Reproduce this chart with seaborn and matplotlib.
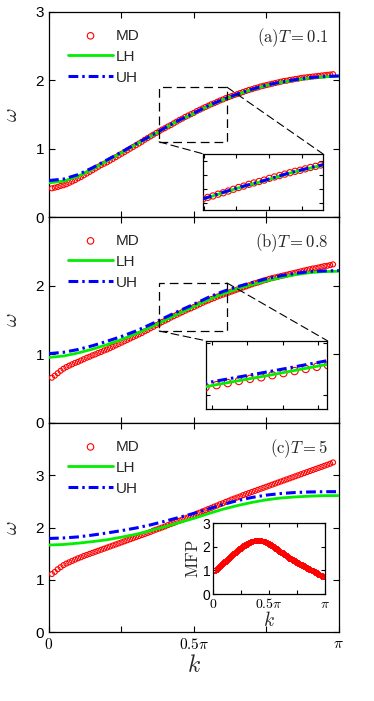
import numpy as np
import matplotlib
matplotlib.use("Agg")
import matplotlib.pyplot as plt
import seaborn as sns
from matplotlib.patches import Rectangle, ConnectionPatch
from matplotlib.ticker import MultipleLocator

sns.set_theme(style="ticks")
plt.rcParams["font.family"] = ["Liberation Sans", "DejaVu Sans"]
plt.rcParams["mathtext.fontset"] = "cm"

# ---- data (k in units of pi) ----
k_line = [0.00, 0.05, 0.10, 0.15, 0.20, 0.25, 0.30, 0.35, 0.40, 0.45, 0.50,
          0.55, 0.60, 0.65, 0.70, 0.75, 0.80, 0.85, 0.90, 0.95, 1.00]

k_md = [0.01, 0.02, 0.03, 0.04, 0.05, 0.06, 0.07, 0.08, 0.09, 0.10,
        0.11, 0.12, 0.13, 0.14, 0.15, 0.16, 0.17, 0.18, 0.19, 0.20,
        0.21, 0.22, 0.23, 0.24, 0.25, 0.26, 0.27, 0.28, 0.29, 0.30,
        0.31, 0.32, 0.33, 0.34, 0.35, 0.36, 0.37, 0.38, 0.39, 0.40,
        0.41, 0.42, 0.43, 0.44, 0.45, 0.46, 0.47, 0.48, 0.49, 0.50,
        0.51, 0.52, 0.53, 0.54, 0.55, 0.56, 0.57, 0.58, 0.59, 0.60,
        0.61, 0.62, 0.63, 0.64, 0.65, 0.66, 0.67, 0.68, 0.69, 0.70,
        0.71, 0.72, 0.73, 0.74, 0.75, 0.76, 0.77, 0.78, 0.79, 0.80,
        0.81, 0.82, 0.83, 0.84, 0.85, 0.86, 0.87, 0.88, 0.89, 0.90,
        0.91, 0.92, 0.93, 0.94, 0.95, 0.96, 0.97, 0.98]

# T = 0.1
lh_a = [0.50, 0.525, 0.595, 0.70, 0.82, 0.94, 1.06, 1.18, 1.30, 1.415, 1.515,
        1.625, 1.715, 1.795, 1.865, 1.925, 1.97, 2.005, 2.035, 2.05, 2.06]
uh_a = [0.534, 0.555, 0.62, 0.72, 0.835, 0.95, 1.07, 1.185, 1.305, 1.42, 1.52,
        1.63, 1.72, 1.80, 1.87, 1.93, 1.975, 2.01, 2.04, 2.055, 2.065]
md_a = [0.42, 0.43, 0.44, 0.455, 0.465, 0.48, 0.50, 0.52, 0.54, 0.565,
        0.585, 0.61, 0.635, 0.66, 0.685, 0.71, 0.735, 0.76, 0.78, 0.80,
        0.825, 0.85, 0.875, 0.90, 0.925, 0.95, 0.975, 1.00, 1.025, 1.05,
        1.075, 1.10, 1.13, 1.155, 1.18, 1.205, 1.23, 1.255, 1.28, 1.30,
        1.325, 1.345, 1.37, 1.395, 1.42, 1.44, 1.465, 1.485, 1.505, 1.525,
        1.55, 1.57, 1.59, 1.61, 1.63, 1.65, 1.665, 1.685, 1.705, 1.72,
        1.74, 1.755, 1.77, 1.785, 1.80, 1.815, 1.83, 1.845, 1.86, 1.87,
        1.885, 1.895, 1.91, 1.92, 1.93, 1.94, 1.95, 1.96, 1.97, 1.98,
        1.99, 1.995, 2.005, 2.01, 2.02, 2.025, 2.035, 2.04, 2.045, 2.05,
        2.055, 2.06, 2.065, 2.07, 2.075, 2.08, 2.085, 2.09]

# T = 0.8
lh_b = [0.955, 0.975, 1.02, 1.075, 1.14, 1.215, 1.30, 1.395, 1.495, 1.60, 1.695,
        1.795, 1.88, 1.955, 2.015, 2.07, 2.12, 2.16, 2.19, 2.205, 2.21]
uh_b = [1.01, 1.03, 1.07, 1.125, 1.19, 1.26, 1.34, 1.435, 1.535, 1.635, 1.73,
        1.83, 1.915, 1.985, 2.045, 2.10, 2.145, 2.18, 2.205, 2.215, 2.22]
md_b = [0.66, 0.69, 0.725, 0.76, 0.79, 0.815, 0.835, 0.855, 0.875, 0.89,
        0.91, 0.93, 0.95, 0.965, 0.985, 1.00, 1.02, 1.035, 1.055, 1.07,
        1.09, 1.11, 1.13, 1.15, 1.17, 1.19, 1.21, 1.23, 1.25, 1.27,
        1.29, 1.31, 1.335, 1.355, 1.38, 1.40, 1.425, 1.445, 1.47, 1.49,
        1.51, 1.535, 1.555, 1.575, 1.595, 1.615, 1.635, 1.655, 1.67, 1.69,
        1.71, 1.73, 1.75, 1.77, 1.785, 1.805, 1.82, 1.84, 1.855, 1.87,
        1.885, 1.90, 1.915, 1.93, 1.945, 1.96, 1.975, 1.99, 2.005, 2.02,
        2.035, 2.045, 2.06, 2.075, 2.085, 2.10, 2.11, 2.12, 2.13, 2.14,
        2.15, 2.16, 2.17, 2.18, 2.19, 2.20, 2.21, 2.22, 2.23, 2.24,
        2.25, 2.255, 2.265, 2.275, 2.285, 2.29, 2.30, 2.31]

# T = 5
lh_c = [1.665, 1.675, 1.70, 1.73, 1.765, 1.815, 1.87, 1.94, 2.015, 2.095, 2.175,
        2.265, 2.35, 2.42, 2.48, 2.53, 2.565, 2.585, 2.60, 2.61, 2.61]
uh_c = [1.79, 1.80, 1.82, 1.855, 1.895, 1.94, 1.99, 2.05, 2.12, 2.195, 2.27,
        2.355, 2.44, 2.515, 2.575, 2.62, 2.65, 2.67, 2.68, 2.685, 2.685]
md_c = [1.11, 1.15, 1.20, 1.24, 1.28, 1.31, 1.335, 1.36, 1.385, 1.41,
        1.43, 1.455, 1.475, 1.495, 1.515, 1.535, 1.555, 1.575, 1.595, 1.615,
        1.635, 1.655, 1.675, 1.695, 1.715, 1.735, 1.755, 1.775, 1.795, 1.815,
        1.835, 1.855, 1.875, 1.895, 1.915, 1.94, 1.96, 1.98, 2.00, 2.02,
        2.045, 2.065, 2.085, 2.11, 2.13, 2.15, 2.175, 2.195, 2.22, 2.24,
        2.265, 2.285, 2.31, 2.33, 2.355, 2.375, 2.40, 2.42, 2.445, 2.465,
        2.49, 2.51, 2.535, 2.555, 2.575, 2.595, 2.62, 2.64, 2.66, 2.68,
        2.70, 2.72, 2.74, 2.76, 2.78, 2.80, 2.82, 2.84, 2.86, 2.88,
        2.90, 2.92, 2.94, 2.96, 2.98, 3.00, 3.02, 3.04, 3.06, 3.08,
        3.10, 3.12, 3.14, 3.16, 3.18, 3.20, 3.22, 3.245]
mfp_c = [1.00, 1.03, 1.06, 1.10, 1.145, 1.19, 1.235, 1.28, 1.325, 1.37,
         1.415, 1.46, 1.50, 1.54, 1.58, 1.62, 1.66, 1.70, 1.74, 1.78,
         1.82, 1.86, 1.895, 1.93, 1.965, 2.00, 2.035, 2.07, 2.10, 2.13,
         2.155, 2.18, 2.20, 2.22, 2.235, 2.25, 2.26, 2.27, 2.275, 2.28,
         2.275, 2.27, 2.26, 2.25, 2.235, 2.22, 2.20, 2.18, 2.155, 2.13,
         2.10, 2.07, 2.035, 2.00, 1.965, 1.93, 1.895, 1.86, 1.83, 1.80,
         1.77, 1.74, 1.705, 1.67, 1.64, 1.61, 1.575, 1.54, 1.51, 1.48,
         1.45, 1.42, 1.395, 1.37, 1.34, 1.31, 1.285, 1.26, 1.235, 1.21,
         1.185, 1.16, 1.135, 1.11, 1.085, 1.06, 1.035, 1.01, 0.985, 0.96,
         0.935, 0.91, 0.88, 0.85, 0.82, 0.79, 0.76, 0.73]

panels = [("(a)", "0.1", lh_a, uh_a, md_a, 3),
          ("(b)", "0.8", lh_b, uh_b, md_b, 3),
          ("(c)", "5", lh_c, uh_c, md_c, 4)]

kl = np.array(k_line) * np.pi
km = np.array(k_md) * np.pi

RED, GREEN, BLUE = "#ff0000", "#00ee00", "#0000ff"
DASHDOT = (0, (3.2, 1.3, 0.8, 1.3))


def draw_curves(ax, lh, uh, md, label=True, ms=13):
    sns.scatterplot(x=km, y=md, ax=ax, marker="o", s=ms, facecolors="none",
                    edgecolor=RED, linewidth=0.8, label="MD" if label else None,
                    zorder=3)
    sns.lineplot(x=kl, y=lh, ax=ax, color=GREEN, lw=2.0,
                 label="LH" if label else None, zorder=4)
    sns.lineplot(x=kl, y=uh, ax=ax, color=BLUE, lw=2.2, linestyle=DASHDOT,
                 label="UH" if label else None, zorder=5)


def style_ax(ax):
    ax.tick_params(direction="in", top=True, right=True, length=4, width=0.8,
                   labelsize=11, colors="black")
    for s in ax.spines.values():
        s.set_linewidth(0.9)
        s.set_color("black")


fig = plt.figure(figsize=(3.74, 7.01), dpi=100)
left, width = 0.131, 0.775
bottoms = [0.6904, 0.3966, 0.0984]
tops = [0.9829, 0.6904, 0.3966]
axes = []
for i, (tag, tval, lh, uh, md, ymax) in enumerate(panels):
    ax = fig.add_axes([left, bottoms[i], width, tops[i] - bottoms[i]])
    draw_curves(ax, lh, uh, md)
    ax.set_xlim(0, np.pi)
    ax.set_ylim(0, ymax)
    ax.set_xticks(np.array([0, 0.25, 0.5, 0.75, 1.0]) * np.pi)
    ax.set_yticks(list(range(ymax + 1)))
    ylabels = [str(v) for v in range(ymax + 1)]
    if i > 0:
        ylabels[-1] = ""
    ax.set_yticklabels(ylabels)
    if i < 2:
        ax.set_xticklabels([])
    else:
        ax.set_xticklabels([r"$0$", "", r"$0.5\pi$", "", r"$\pi$"])
        ax.set_xlabel(r"$k$", fontsize=17, labelpad=2)
    ax.set_ylabel(r"$\omega$", fontsize=15)
    ax.yaxis.set_label_coords(-0.095, 0.5)
    style_ax(ax)
    ax.legend(loc="upper left", frameon=False, fontsize=11, handlelength=2.9,
              handletextpad=0.2, labelspacing=0.45, borderaxespad=0.3,
              bbox_to_anchor=(0.03, 0.97), scatterpoints=1, markerscale=1.3)
    ax.text(0.965, 0.93, r"$\mathrm{" + tag + r"}T=" + tval + r"$",
            transform=ax.transAxes, ha="right", va="top", fontsize=12)
    axes.append(ax)

# zoom insets for (a) and (b)
zooms = [
    (axes[0], [0.542, 0.7004, 0.3209, 0.0803], (0.38 * np.pi, 0.614 * np.pi), (1.10, 1.90),
     (1.194, 1.929), (1.10, 1.90), 0.2, 0.2, lh_a, uh_a, md_a, 20),
    (axes[1], [0.550, 0.4170, 0.3251, 0.0970], (0.38 * np.pi, 0.614 * np.pi), (1.34, 2.04),
     (1.383, 1.726), (1.37, 2.02), 0.1, 0.5, lh_b, uh_b, md_b, 28),
]
for ax, pos, bx, by, xl, yl, xs, ys, lh, uh, md, ms in zooms:
    ins = fig.add_axes(pos)
    draw_curves(ins, lh, uh, md, label=False, ms=ms)
    ins.set_xlim(*xl)
    ins.set_ylim(*yl)
    ins.xaxis.set_major_locator(MultipleLocator(xs))
    ins.yaxis.set_major_locator(MultipleLocator(ys))
    ins.set_xticklabels([])
    ins.set_yticklabels([])
    ins.set_xlabel("")
    ins.set_ylabel("")
    style_ax(ins)
    ins.tick_params(length=3)
    ax.add_patch(Rectangle((bx[0], by[0]), bx[1] - bx[0], by[1] - by[0], fill=False,
                           ec="black", lw=0.9, ls=(0, (7, 4)), zorder=6))
    for pa, pb in [((bx[0], by[0]), (0, 1)), ((bx[1], by[1]), (1, 1))]:
        con = ConnectionPatch(xyA=pa, coordsA="data", axesA=ax,
                              xyB=pb, coordsB="axes fraction", axesB=ins,
                              color="black", lw=0.8, ls=(0, (7, 4)))
        fig.add_artist(con)

# MFP inset in (c)
ins = fig.add_axes([0.5703, 0.1526, 0.2987, 0.1009])
sns.scatterplot(x=km, y=mfp_c, ax=ins, marker="s", s=9, facecolors="none",
                edgecolor=RED, linewidth=0.7)
ins.set_xlim(0, np.pi)
ins.set_ylim(0, 3)
ins.set_xticks(np.array([0, 0.25, 0.5, 0.75, 1.0]) * np.pi)
ins.set_xticklabels([r"$0$", "", r"$0.5\pi$", "", r"$\pi$"])
ins.set_yticks([0, 1, 2, 3])
style_ax(ins)
ins.tick_params(length=3, labelsize=10, pad=2)
ins.set_xlabel(r"$k$", fontsize=14, labelpad=0)
ins.set_ylabel(r"$\mathrm{MFP}$", fontsize=12, labelpad=1)

fig.savefig("out.png", dpi=100)
